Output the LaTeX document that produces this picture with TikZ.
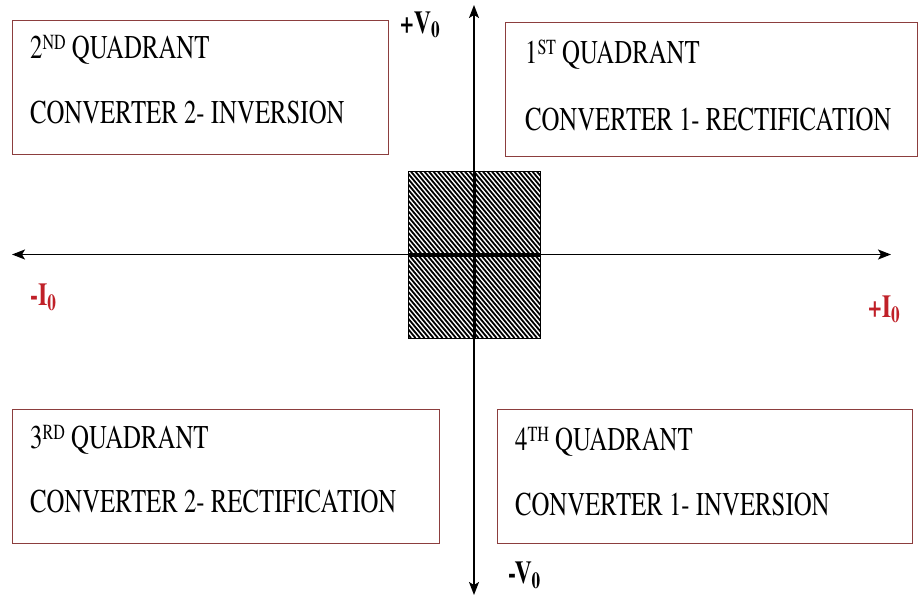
\documentclass[tikz,border=0pt]{standalone}
\usepackage{fontspec}
\newfontfamily\qfont{texgyretermes}[Extension=.otf, UprightFont=*-regular, BoldFont=*-bold, FakeStretch=0.747]
\usetikzlibrary{arrows.meta}
\definecolor{boxline}{RGB}{140,62,62}
\definecolor{lblred}{RGB}{192,32,40}
\newcommand{\supx}[1]{\raisebox{9pt}{\fontsize{21.5}{22}\selectfont #1}}
\newcommand{\subx}[1]{\raisebox{-5pt}{\fontsize{23}{24}\selectfont #1}}
\begin{document}
\begin{tikzpicture}[x=1pt,y=1pt,
  qbox/.style={draw=boxline, line width=1.3pt, inner sep=0pt, anchor=north west, minimum height=134pt},
  qtext/.style={anchor=base west, inner sep=0pt, font=\qfont\fontsize{33.2}{36}\selectfont},
  axlbl/.style={anchor=base west, inner sep=0pt, font=\qfont\fontsize{32}{36}\selectfont\bfseries},
  axis/.style={line width=1.4pt, {Stealth[length=13pt,width=10pt,inset=3pt]}-{Stealth[length=13pt,width=10pt,inset=3pt]}},
  hatchline/.style={line width=1.8pt}
]
\useasboundingbox (0,0) rectangle (919,-597);
\fill[white] (0,0) rectangle (919,-597);

% quadrant boxes
\node[qbox, minimum width=376pt] (b2) at (12,-20) {};
\node[qbox, minimum width=412pt] (b1) at (505,-22) {};
\node[qbox, minimum width=427pt] (b3) at (12,-409) {};
\node[qbox, minimum width=415pt] (b4) at (497,-409) {};

% box texts
\node[qtext] (t2a) at (30,-58) {2\supx{ND} QUADRANT};
\node[qtext] (t2b) at (30,-123) {CONVERTER 2- INVERSION};
\node[qtext] (t1a) at (525,-63) {1\supx{ST} QUADRANT};
\node[qtext] (t1b) at (525,-130) {CONVERTER 1- RECTIFICATION};
\node[qtext] (t3a) at (30,-448) {3\supx{RD} QUADRANT};
\node[qtext] (t3b) at (30,-512) {CONVERTER 2- RECTIFICATION};
\node[qtext] (t4a) at (515,-450) {4\supx{TH} QUADRANT};
\node[qtext] (t4b) at (515,-515) {CONVERTER 1- INVERSION};

% hatched block
\begin{scope}
  \clip (408,-171) rectangle (540,-338);
  \foreach \x in {262,266.5,...,545} \draw[hatchline] (\x,-171) -- ++(140,-167);
\end{scope}
\node[draw, line width=1.3pt, inner sep=0pt, anchor=north west, minimum width=132pt, minimum height=167pt] (hatch) at (408,-171) {};

% axes
\coordinate (vt) at (474,-5);
\coordinate (vb) at (474,-595);
\coordinate (hl) at (12,-254.5);
\coordinate (hr) at (891,-254.5);
\draw[axis] (hl) -- (hr);
\draw[axis] (vb) -- (vt);
\draw[line width=4pt] (hatch.west) -- (hatch.east);
\draw[line width=3pt] (hatch.north) -- (hatch.south);

% axis labels
\node[axlbl] (vp) at (400,-33) {+V\subx{0}};
\node[axlbl] (vm) at (508,-583) {-V\subx{0}};
\node[axlbl, text=lblred] (im) at (30,-305) {-I\subx{0}};
\node[axlbl, text=lblred] (ip) at (868,-317) {+I\subx{0}};
\end{tikzpicture}
\end{document}
